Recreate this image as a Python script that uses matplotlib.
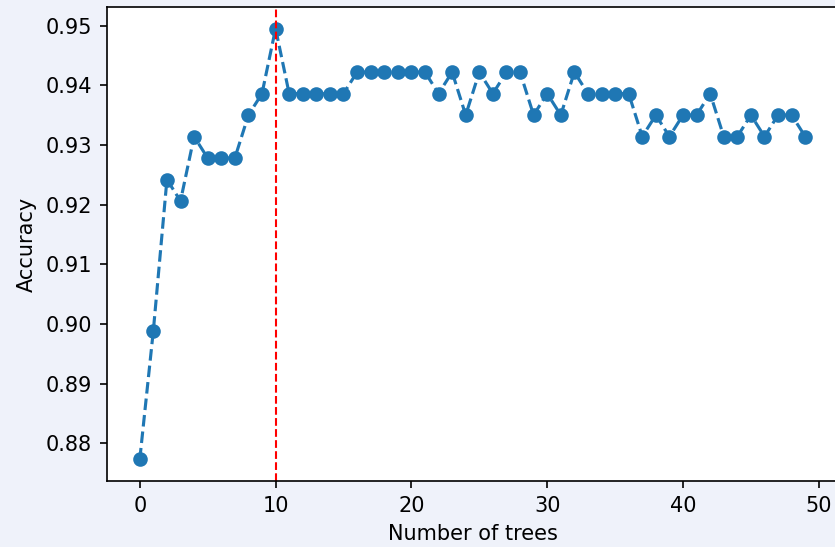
import matplotlib
matplotlib.use("Agg")
import matplotlib.pyplot as plt

# accuracy for each number of trees
n_trees = list(range(50))
accuracy = [
    0.8773, 0.8989, 0.9242, 0.9206, 0.9314, 0.9278, 0.9278, 0.9278, 0.9350, 0.9386,
    0.9495, 0.9386, 0.9386, 0.9386, 0.9386, 0.9386, 0.9422, 0.9422, 0.9422, 0.9422,
    0.9422, 0.9422, 0.9386, 0.9422, 0.9350, 0.9422, 0.9386, 0.9422, 0.9422, 0.9350,
    0.9386, 0.9350, 0.9422, 0.9386, 0.9386, 0.9386, 0.9386, 0.9314, 0.9350, 0.9314,
    0.9350, 0.9350, 0.9386, 0.9314, 0.9314, 0.9350, 0.9314, 0.9350, 0.9350, 0.9314,
]
best_n = 10

W, H = 835, 547
dpi = 150
fig = plt.figure(figsize=(W / dpi, H / dpi), dpi=dpi, facecolor="#eff2fa")
# axes run slightly past the right edge, as in the reference crop
ax = fig.add_axes([106.5 / W, (H - 481) / H, 732 / W, 474 / H])
ax.spines["right"].set_visible(False)

ax.plot(n_trees, accuracy, "o--", color="#1f77b4")
ax.axvline(best_n, color="red", linestyle="--", linewidth=1)

ax.set_xlabel("Number of trees")
ax.set_ylabel("Accuracy")

fig.savefig("out.png", dpi=dpi, facecolor=fig.get_facecolor())
